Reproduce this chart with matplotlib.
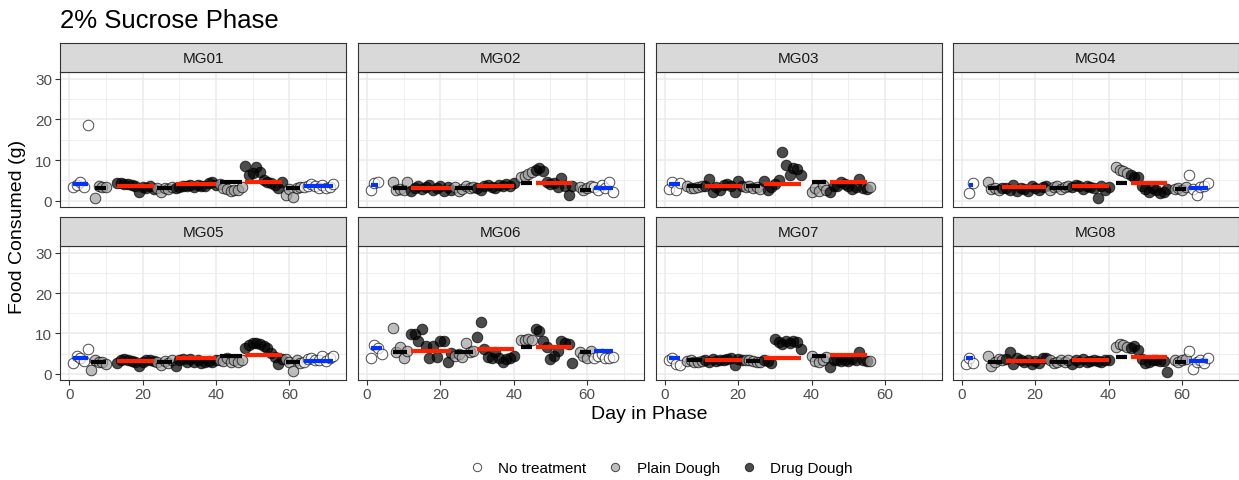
import matplotlib
matplotlib.use('Agg')
import matplotlib.pyplot as plt
from matplotlib.lines import Line2D

plt.rcParams['font.family'] = ['Liberation Sans', 'DejaVu Sans']

# 数据：每个阶段 (类型, 起始天, 每日进食量, 阶段水平线)
MG01 = [
    ("none", 1, [3.4, 3.8, 4.5, 3.3, 18.5], 4.1),
    ("plain", 7, [0.6, 3.5, 3.3, 3.4], 3.1),
    ("drug", 13, [4.4, 4.3, 4.0, 4.1, 3.9, 3.6, 2.0, 3.4, 3.2, 3.5, 2.9], 3.6),
    ("plain", 24, [3.0, 2.2, 3.1, 2.8, 3.3], 3.0),
    ("drug", 29, [3.1, 3.3, 3.6, 3.5, 3.8, 3.4, 3.9, 3.6, 3.5, 4.3, 4.6, 3.8], 4.0),
    ("plain", 41, [4.0, 3.2, 2.8, 2.3, 2.5, 2.6, 3.3], 4.5),
    ("drug", 48, [8.6, 6.2, 6.8, 8.4, 7.0, 5.0, 4.7, 4.4, 3.8, 3.0, 4.6], 4.6),
    ("plain", 59, [1.3, 2.9, 0.8, 3.2, 3.4], 3.0),
    ("none", 64, [3.3, 3.6, 4.0, 3.5, 3.2, 3.8, 3.0, 3.4, 4.0], 3.5),
]
MG02 = [
    ("none", 1, [2.6, 4.4, 4.7], 3.9),
    ("plain", 7, [4.5, 2.5, 2.9, 2.6, 4.6], 3.1),
    ("drug", 12, [2.3, 3.0, 3.6, 2.8, 3.4, 3.8, 2.6, 3.2, 3.5, 2.4, 3.3, 2.7], 3.1),
    ("plain", 24, [3.3, 2.4, 2.9, 3.6, 3.0, 3.4], 3.0),
    ("drug", 30, [3.0, 2.7, 3.6, 3.9, 3.4, 3.1, 3.8, 3.5, 4.0, 3.7, 4.4], 3.7),
    ("plain", 42, [5.8, 6.1, 6.6, 7.0], 4.3),
    ("drug", 46, [7.6, 8.0, 7.2, 4.6, 4.2, 4.4, 3.4, 5.6, 3.6, 1.4, 3.5], 4.4),
    ("plain", 58, [3.3, 2.6, 3.0, 3.6], 2.7),
    ("none", 62, [3.4, 2.6, 3.8, 3.0, 4.6, 2.0], 3.1),
]
MG03 = [
    ("none", 1, [2.8, 4.6, 2.6, 4.4], 4.0),
    ("plain", 6, [3.6, 3.1, 3.0, 3.4, 3.7], 3.5),
    ("drug", 11, [3.6, 5.3, 2.0, 3.3, 2.6, 3.9, 4.2, 3.5, 2.1, 4.9, 3.6], 3.7),
    ("plain", 22, [3.3, 3.6, 3.0, 3.4, 2.9], 3.5),
    ("drug", 27, [4.9, 2.5, 3.3, 4.1, 5.1, 11.9, 8.8, 6.2, 8.0, 7.9, 6.2], 4.0),
    ("plain", 40, [2.1, 3.0, 2.4, 3.8, 2.6], 4.5),
    ("drug", 45, [2.1, 3.7, 3.5, 4.6, 4.0, 3.6, 2.9, 3.4, 5.3, 3.2, 2.9], 4.6),
    ("plain", 56, [3.4], 3.4),
]
MG04 = [
    ("none", 2, [1.9, 4.4], 3.9),
    ("plain", 7, [4.7, 2.9, 3.0, 2.6], 3.1),
    ("drug", 11, [3.2, 3.0, 2.5, 3.8, 2.3, 3.1, 2.8, 2.4, 3.5, 3.0, 2.6, 3.3, 3.6], 3.3),
    ("plain", 24, [2.5, 3.4, 3.6, 2.9, 3.3, 3.5], 3.0),
    ("drug", 30, [3.3, 3.9, 3.5, 2.9, 3.7, 3.3, 3.2, 0.6, 3.6, 2.7, 3.4], 3.7),
    ("plain", 42, [8.3, 7.6, 7.2, 6.8], 4.3),
    ("drug", 46, [6.4, 5.9, 5.7, 3.6, 2.8, 2.2, 3.0, 2.5, 1.9, 2.2, 2.8], 4.4),
    ("plain", 58, [2.8, 3.1, 2.6, 3.4], 2.9),
    ("none", 62, [6.3, 2.8, 1.4, 3.3, 3.6, 4.4], 3.1),
]
MG05 = [
    ("none", 1, [2.6, 4.4, 3.9, 3.2, 6.1], 3.8),
    ("plain", 6, [0.9, 3.3, 2.8, 3.0, 2.5], 3.0),
    ("drug", 13, [2.6, 3.4, 3.6, 3.3, 3.1, 2.9, 1.8, 3.0, 3.5, 3.4, 3.2], 3.2),
    ("plain", 24, [2.9, 2.2, 3.2, 2.6, 3.5], 3.0),
    ("drug", 29, [2.0, 3.4, 3.6, 3.0, 3.7, 2.9, 3.5, 2.6, 2.8, 3.2, 3.0, 3.3], 3.9),
    ("plain", 41, [3.4, 3.2, 3.9, 3.0, 3.3, 2.9, 3.4], 4.3),
    ("drug", 48, [6.3, 7.0, 7.6, 7.7, 7.4, 6.8, 6.3, 5.1, 4.2, 2.4, 3.6], 4.6),
    ("plain", 59, [3.6, 3.0, 0.6, 3.3, 2.6], 2.8),
    ("none", 64, [3.0, 3.6, 3.9, 3.3, 3.5, 4.3, 3.1, 3.8, 4.5], 3.2),
]
MG06 = [
    ("none", 1, [3.8, 7.1, 6.4, 4.8], 6.3),
    ("plain", 7, [11.4, 5.4, 6.6, 3.8, 5.5], 5.4),
    ("drug", 12, [9.8, 9.9, 8.2, 11.0, 6.8, 4.0, 6.9, 4.2, 8.1, 8.1, 3.0, 5.2], 5.7),
    ("plain", 24, [4.4, 5.0, 4.2, 7.7, 5.3, 5.6], 5.4),
    ("drug", 30, [9.0, 12.7, 6.2, 4.1, 4.0, 5.3, 3.9, 2.8, 3.6, 4.0, 4.5], 6.1),
    ("plain", 42, [8.3, 8.4, 8.5, 8.3], 6.7),
    ("drug", 46, [11.0, 10.6, 8.2, 6.5, 3.6, 4.4, 5.5, 8.2, 7.6, 7.3, 2.6], 6.7),
    ("plain", 58, [5.4, 4.4, 3.9, 5.5], 5.3),
    ("none", 62, [3.9, 4.5, 5.0, 4.0, 3.8, 4.2], 5.6),
]
MG07 = [
    ("none", 1, [3.3, 3.9, 2.3, 2.1], 3.9),
    ("plain", 6, [3.1, 3.3, 2.8, 3.0, 3.2], 3.4),
    ("drug", 11, [3.4, 3.0, 3.6, 3.2, 3.3, 3.5, 3.7, 3.9, 2.2, 3.6, 3.4], 3.5),
    ("plain", 22, [3.5, 3.3, 3.1, 2.9, 3.0], 3.2),
    ("drug", 27, [3.3, 3.2, 2.7, 8.6, 7.8, 7.3, 8.2, 7.6, 8.2, 7.9, 6.1], 3.9),
    ("plain", 40, [4.4, 3.2, 2.9, 3.3, 4.1], 4.4),
    ("drug", 45, [1.7, 3.4, 3.3, 3.2, 3.5, 3.1, 3.6, 3.4, 5.3, 3.3, 3.2], 4.7),
    ("plain", 56, [3.2], 3.2),
]
MG08 = [
    ("none", 1, [2.4, 3.8, 2.7], 3.8),
    ("plain", 7, [4.4, 1.9, 2.8, 3.6, 3.5], 3.0),
    ("drug", 12, [3.6, 5.4, 2.4, 3.8, 3.3, 2.8, 3.4, 2.5, 3.2, 2.6, 4.0, 3.8], 3.2),
    ("plain", 24, [3.3, 2.6, 3.0, 3.4, 2.9, 3.5], 3.0),
    ("drug", 30, [2.5, 3.3, 3.0, 3.6, 2.9, 3.1, 3.4, 3.2, 2.8, 3.5, 3.3], 3.5),
    ("plain", 42, [6.7, 7.3, 7.0, 6.7], 4.2),
    ("drug", 46, [6.4, 6.9, 5.8, 3.6, 2.7, 3.0, 3.3, 3.5, 3.1, 3.2, 0.5], 4.2),
    ("plain", 58, [3.5, 3.0, 3.3, 3.6], 3.0),
    ("none", 62, [5.5, 1.2, 2.8, 3.3, 2.6, 4.0], 3.2),
]

PANEL_NAMES = ['MG01', 'MG02', 'MG03', 'MG04', 'MG05', 'MG06', 'MG07', 'MG08']
PANEL_DATA = [MG01, MG02, MG03, MG04, MG05, MG06, MG07, MG08]
KIND_LABELS = {'none': 'No treatment', 'plain': 'Plain Dough', 'drug': 'Drug Dough'}

# 样式
POINT_FILL = {'none': '#FFFFFF', 'plain': '#A3A3A3', 'drug': '#000000'}
LINE_COLOR = {'none': '#0033FF', 'plain': '#000000', 'drug': '#FF2200'}
GRID = '#EBEBEB'
DARK = '#333333'

W, H = 1239, 481
fig = plt.figure(figsize=(W / 100, H / 100), dpi=100)


def fx(px):
    return px / W


def fy(px):
    return 1 - px / H


PANEL_LEFT = [60, 357.7, 655.5, 952.5]
PANEL_W = 286.5
# (strip top, plot top, plot bottom)
ROWS = [(44.3, 73.3, 207.7), (218.3, 247.3, 380.7)]

for i, (name, phases) in enumerate(zip(PANEL_NAMES, PANEL_DATA)):
    row, col = divmod(i, 4)
    s_top, p_top, p_bot = ROWS[row]
    left = PANEL_LEFT[col]

    ax = fig.add_axes([fx(left), fy(p_bot), PANEL_W / W, (p_bot - p_top) / H])
    for kind, start, vals, level in phases:
        days = list(range(start, start + len(vals)))
        ax.scatter(days, vals, s=58, facecolor=POINT_FILL[kind], edgecolor='black',
                   linewidth=0.7, alpha=0.7, zorder=2)
        ax.plot([days[0], days[-1]], [level, level], color=LINE_COLOR[kind],
                linewidth=3, solid_capstyle='butt', zorder=3)

    ax.set_xlim(-2.55, 75.55)
    ax.set_ylim(-1.5, 31.6)
    ax.set_xticks([0, 20, 40, 60])
    ax.set_xticks([10, 30, 50, 70], minor=True)
    ax.set_yticks([0, 10, 20, 30])
    ax.set_yticks([5, 15, 25], minor=True)
    ax.grid(which='major', color=GRID, linewidth=1.1)
    ax.grid(which='minor', color=GRID, linewidth=0.6)
    ax.set_axisbelow(True)
    for sp in ax.spines.values():
        sp.set_color(DARK)
        sp.set_linewidth(0.8)
    ax.tick_params(which='minor', length=0)
    ax.tick_params(which='major', length=3.5, width=0.8, color=DARK,
                   labelcolor='#4D4D4D', labelsize=11, pad=2,
                   left=(col == 0), labelleft=(col == 0),
                   bottom=(row == 1), labelbottom=(row == 1))

    sax = fig.add_axes([fx(left), fy(p_top), PANEL_W / W, (p_top - s_top) / H])
    sax.set_facecolor('#D9D9D9')
    sax.set_xticks([])
    sax.set_yticks([])
    for sp in sax.spines.values():
        sp.set_color(DARK)
        sp.set_linewidth(0.8)
    sax.text(0.5, 0.5, name, ha='center', va='center', fontsize=11,
             color='#1A1A1A', transform=sax.transAxes)

fig.text(fx(60), fy(21), '2% Sucrose Phase', ha='left', va='center', fontsize=18.5)
fig.text(fx(18), fy(227), 'Food Consumed (g)', ha='center', va='center',
         rotation=90, fontsize=14)
fig.text(fx(649), fy(415), 'Day in Phase', ha='center', va='center', fontsize=14)

handles = [Line2D([], [], linestyle='', marker='o', markersize=6,
                  markerfacecolor=POINT_FILL[k], markeredgecolor='black',
                  markeredgewidth=0.7, alpha=0.7, label=KIND_LABELS[k])
           for k in ['none', 'plain', 'drug']]
fig.legend(handles=handles, loc='center', bbox_to_anchor=(fx(660), fy(469)),
           ncol=3, frameon=False, fontsize=11, handlelength=1.2,
           handletextpad=0.8, columnspacing=1.3)

fig.savefig('out.png', dpi=100)
